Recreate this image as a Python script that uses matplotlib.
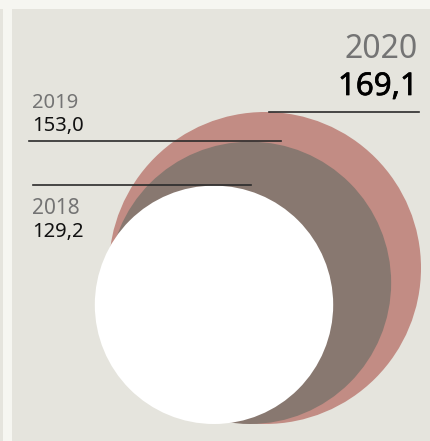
import matplotlib
matplotlib.use("Agg")
import matplotlib.pyplot as plt
import matplotlib.patheffects as pe
from matplotlib.patches import Circle, Rectangle

years = ["2018", "2019", "2020"]
values = [129.2, 153.0, 169.1]
labels = ["129,2", "153,0", "169,1"]
colors = ["#ffffff", "#887870", "#c28c84"]

W, H = 431, 441
fig = plt.figure(figsize=(W / 100, H / 100), dpi=100)
ax = fig.add_axes([0, 0, 1, 1])
ax.set_xlim(0, W)
ax.set_ylim(H, 0)
ax.set_aspect("equal")
ax.axis("off")
fig.patch.set_facecolor("#e5e4dd")

# frame strips
ax.add_patch(Rectangle((0, 0), W, 9, color="#f6f6f1", lw=0, zorder=0))
ax.add_patch(Rectangle((3, 0), 9, H, color="#f6f6f1", lw=0, zorder=0))

scale = 156 / max(values)
bottom = 424
cx = {"2018": 214, "2019": 250, "2020": 265}

# draw largest first
for yr, v, c in sorted(zip(years, values, colors), key=lambda t: -t[1]):
    r = v * scale
    ax.add_patch(Circle((cx[yr], bottom - r), r, color=c, lw=0, zorder=2))

fam = ["Noto Sans", "DejaVu Sans"]
line_kw = dict(color="#2b2b2b", lw=1.2, zorder=3)

# 2020
ax.plot([269, 419], [112, 112], **line_kw)
ax.text(418, 58.5, years[2], ha="right", va="baseline", fontsize=23,
        color="#747474", family=fam)
ax.text(418, 95, labels[2], ha="right", va="baseline", fontsize=22.5,
        color="#000000", family=fam,
        path_effects=[pe.withStroke(linewidth=0.5, foreground="#000000")])

# 2019
ax.plot([29, 281], [141, 141], **line_kw)
ax.text(32, 108, years[1], ha="left", va="baseline", fontsize=14.5,
        color="#747474", family=fam)
ax.text(32, 131.5, labels[1], ha="left", va="baseline", fontsize=14.5,
        color="#111111", family=fam)

# 2018
ax.plot([33, 251], [185, 185], **line_kw)
ax.text(32, 213.5, years[0], ha="left", va="baseline", fontsize=15,
        color="#747474", family=fam)
ax.text(32, 237, labels[0], ha="left", va="baseline", fontsize=14.5,
        color="#111111", family=fam)

fig.savefig("out.png", dpi=100, facecolor=fig.get_facecolor())
